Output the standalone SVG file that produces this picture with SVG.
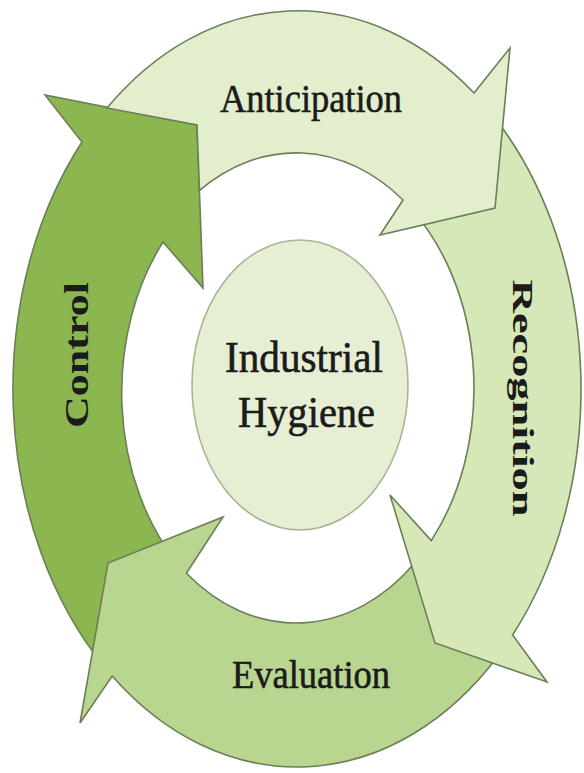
<svg xmlns="http://www.w3.org/2000/svg" width="584" height="773" viewBox="0 0 584 773">
  <style>
    .band { stroke: #6b7f58; stroke-width: 1.6; stroke-linejoin: miter; }
    .lbl { font-family: "Liberation Serif", "Times New Roman", serif; fill: #1b1b1b; stroke: #1b1b1b; stroke-width: 0.6; text-anchor: middle; }
    .vlbl { font-family: "Liberation Serif", "Times New Roman", serif; fill: #1b1b1b; text-anchor: middle; font-weight: bold; }
  </style>
  <rect x="0" y="0" width="584" height="773" fill="#ffffff"/>

  <g id="node-control">
    <path class="band" fill="#8bb650" d="M 176.9,562.6 L 103.3,665.5 A 284 378 0 0 1 82,142 L 45,95 L 197,125 L 203,288 L 163,242 A 178 235 0 0 0 176.9,562.6 Z"/>
    <text class="vlbl" x="88" y="355" font-size="34" textLength="146" lengthAdjust="spacingAndGlyphs" transform="rotate(-90 88 355)">Control</text>
  </g>

  <g id="node-evaluation">
    <path class="band" fill="#b8d68f" d="M 415.1,562.6 L 497.8,656.3 A 284 378 0 0 1 112.2,676 L 80,723 L 108,563 L 223,517 L 186.4,573.2 A 178 235 0 0 0 415.1,562.6 Z"/>
    <text class="lbl" x="311" y="688" font-size="40" textLength="158" lengthAdjust="spacingAndGlyphs">Evaluation</text>
  </g>

  <g id="node-recognition">
    <path class="band" fill="#d6e7b8" d="M 410.4,208 L 497.8,121.7 A 284 378 0 0 1 512.6,635 L 547,682 L 435,643 L 390,495 L 431.3,540.6 A 178 235 0 0 0 410.4,208 Z"/>
    <text class="vlbl" x="398" y="-513" font-size="30" textLength="237" lengthAdjust="spacingAndGlyphs" transform="rotate(90)">Recognition</text>
  </g>

  <g id="node-anticipation">
    <path class="band" fill="#e3eecd" d="M 107,108 A 284 378 0 0 1 474,93 L 510,48 L 495,208 L 380,235 L 403,200 A 178 235 0 0 0 199.5,190.4 L 197,125 Z"/>
    <text class="lbl" x="311" y="112" font-size="41" textLength="182" lengthAdjust="spacingAndGlyphs">Anticipation</text>
  </g>

  <g id="node-industrial-hygiene">
    <ellipse cx="300" cy="385" rx="108" ry="145" fill="#e6efd4" stroke="#a7b596" stroke-width="1.6"/>
    <text class="lbl" x="304" y="372" font-size="45" textLength="158" lengthAdjust="spacingAndGlyphs">Industrial</text>
    <text class="lbl" x="306.5" y="427" font-size="44" textLength="137" lengthAdjust="spacingAndGlyphs">Hygiene</text>
  </g>
</svg>
